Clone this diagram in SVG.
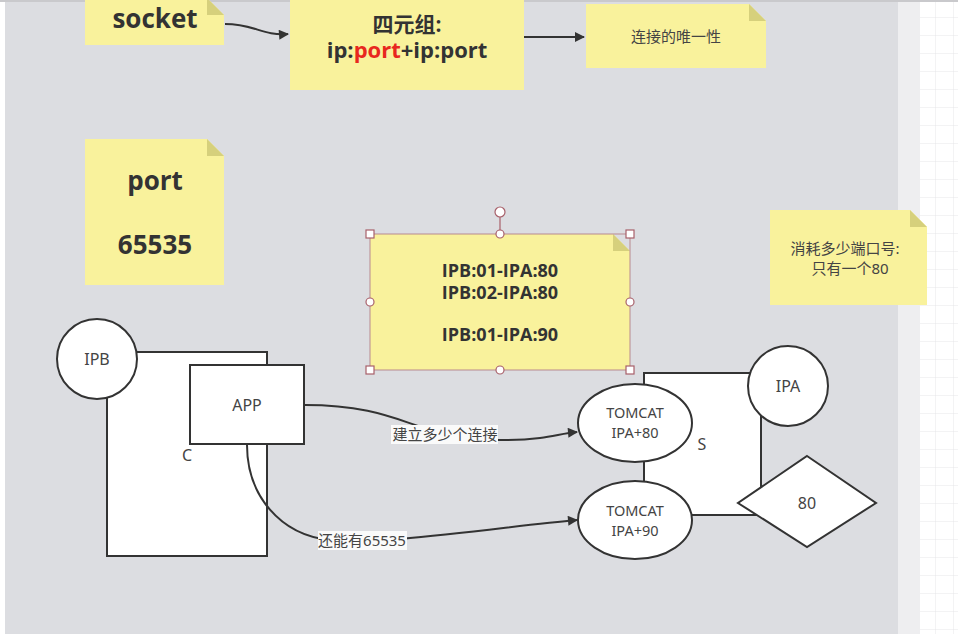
<svg xmlns="http://www.w3.org/2000/svg" width="958" height="634" viewBox="0 0 958 634">
<defs>
<style>
.note{fill:#f9f29c;}
.fold{fill:#d6d07c;}
.bold{font-family:"Open Sans","Noto Sans","Noto Sans CJK SC",sans-serif;font-weight:bold;fill:#333;text-anchor:middle;}
.lbl{font-family:"Noto Sans","Noto Sans CJK SC",sans-serif;fill:#444;text-anchor:middle;font-size:15px;}
.nt{font-size:16px;}
.tc{font-size:14.5px;}
.shape{fill:#fff;stroke:#333;stroke-width:2;}
.edge{fill:none;stroke:#333;stroke-width:2;}
.h{fill:#fff;stroke:#a8606a;stroke-width:1.2;}
</style>
<marker id="arr" viewBox="0 0 10 10" refX="9" refY="5" markerWidth="12" markerHeight="10" orient="auto" markerUnits="userSpaceOnUse">
<path d="M0,0 L10,5 L0,10 Z" fill="#333"/>
</marker>
<pattern id="grid" width="18" height="18" patternUnits="userSpaceOnUse">
<path d="M18,0 V18 M0,18 H18" fill="none" stroke="#e6e6e9" stroke-width="1"/>
</pattern>
</defs>
<rect width="958" height="634" fill="#fff"/>
<rect x="920" y="0" width="38" height="634" fill="url(#grid)"/>
<rect x="898" y="0" width="22" height="634" fill="#eeeef0"/>
<rect x="5" y="2" width="893" height="632" fill="#dcdde1"/>
<rect x="0" y="0" width="958" height="2" fill="#c9c9cc"/>

<g id="socket">
<path class="note" d="M85,-2 H207 L224,15 V45 H85 Z"/>
<path class="fold" d="M207,-2 V15 H224 Z"/>
<text class="bold" x="155" y="28" font-size="26">socket</text>
</g>

<g id="tuple">
<path class="note" d="M290,0 H524 V90 H290 Z"/>
<text class="bold" x="407" y="32" font-size="21">四元组:</text>
<text class="bold" x="407" y="58" font-size="22">ip:<tspan fill="#e8281e">port</tspan>+ip:port</text>
</g>

<g id="unique">
<path class="note" d="M586,4 H749 L766,21 V68 H586 Z"/>
<path class="fold" d="M749,4 V21 H766 Z"/>
<text class="lbl" x="676" y="42">连接的唯一性</text>
</g>

<g id="port">
<path class="note" d="M85,139 H207 L224,156 V285 H85 Z"/>
<path class="fold" d="M207,139 V156 H224 Z"/>
<text class="bold" x="155" y="190" font-size="26">port</text>
<text class="bold" x="155" y="254" font-size="26">65535</text>
</g>

<g id="pairs">
<path class="note" d="M370,234 H613 L630,251 V370 H370 Z"/>
<path class="fold" d="M613,234 V251 H630 Z"/>
<rect x="370" y="234" width="260" height="136" fill="none" stroke="#b88a8f" stroke-width="1"/>
<text class="bold" x="500" y="277" font-size="18">IPB:01-IPA:80</text>
<text class="bold" x="500" y="299" font-size="18">IPB:02-IPA:80</text>
<text class="bold" x="500" y="341" font-size="18">IPB:01-IPA:90</text>
<line x1="500" y1="212" x2="500" y2="234" stroke="#a8606a" stroke-width="1.2"/>
<circle class="h" cx="500" cy="212" r="5"/>
<rect class="h" x="366" y="230" width="8" height="8"/>
<rect class="h" x="626" y="230" width="8" height="8"/>
<rect class="h" x="366" y="366" width="8" height="8"/>
<rect class="h" x="626" y="366" width="8" height="8"/>
<circle class="h" cx="500" cy="234" r="4"/>
<circle class="h" cx="500" cy="370" r="4"/>
<circle class="h" cx="370" cy="302" r="4"/>
<circle class="h" cx="630" cy="302" r="4"/>
</g>

<g id="consume">
<path class="note" d="M770,210 H910 L927,227 V305 H770 Z"/>
<path class="fold" d="M910,210 V227 H927 Z"/>
<text class="lbl" x="845" y="254">消耗多少端口号:</text>
<text class="lbl" x="850" y="274">只有一个80</text>
</g>

<g id="C">
<rect class="shape" x="107" y="352" width="160" height="204"/>
<text class="lbl nt" x="187" y="461">C</text>
</g>
<g id="IPB">
<circle class="shape" cx="97" cy="359" r="40"/>
<text class="lbl nt" x="97" y="365">IPB</text>
</g>
<g id="APP">
<rect class="shape" x="190" y="365" width="114" height="79"/>
<text class="lbl nt" x="247" y="411">APP</text>
</g>
<g id="S">
<rect class="shape" x="644" y="373" width="117" height="142"/>
<text class="lbl nt" x="702" y="450">S</text>
</g>
<g id="IPA">
<circle class="shape" cx="788" cy="386" r="40"/>
<text class="lbl nt" x="788" y="392">IPA</text>
</g>
<g id="tomcat80">
<ellipse class="shape" cx="635" cy="423" rx="57" ry="39"/>
<text class="lbl tc" x="635" y="418">TOMCAT</text>
<text class="lbl tc" x="635" y="438">IPA+80</text>
</g>
<g id="tomcat90">
<ellipse class="shape" cx="635" cy="520" rx="57" ry="39"/>
<text class="lbl tc" x="635" y="516">TOMCAT</text>
<text class="lbl tc" x="635" y="536">IPA+90</text>
</g>
<g id="d80">
<path class="shape" d="M807,456 L876,503 L807,547 L738,503 Z"/>
<text class="lbl nt" x="807" y="509">80</text>
</g>

<g id="connectors">
<path class="edge" d="M225,24 C255,24 262,36 288,34" marker-end="url(#arr)"/>
<path class="edge" d="M524,37 H584" marker-end="url(#arr)"/>
<path class="edge" d="M305,405 C380,405 405,425 440,432 C470,440 510,442 540,438 C555,436 565,433 577,432" marker-end="url(#arr)"/>
<path class="edge" d="M247,445 C247,495 280,535 330,540 L400,539 C470,533 530,524 577,520" marker-end="url(#arr)"/>
<rect x="391" y="425" width="107" height="19" fill="#fafafa"/>
<text class="lbl" x="445" y="440">建立多少个连接</text>
<rect x="318" y="531" width="89" height="19" fill="#fafafa"/>
<text class="lbl" x="362" y="546">还能有65535</text>
</g>
</svg>
